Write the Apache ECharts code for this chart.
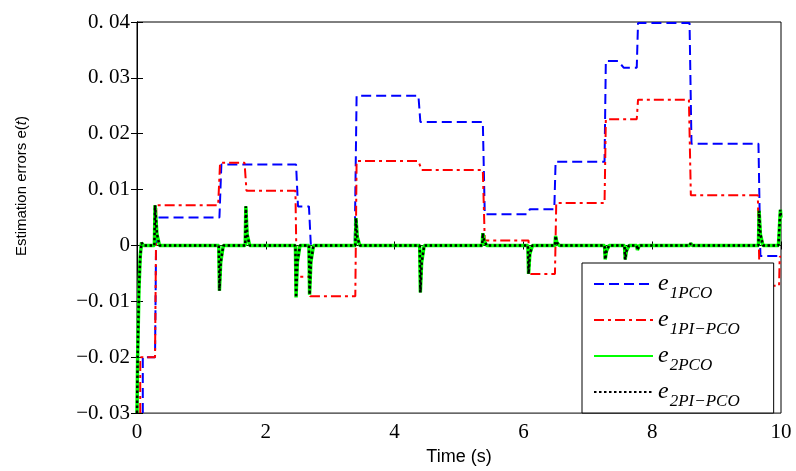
<!DOCTYPE html>
<html>
<head>
<meta charset="utf-8">
<script src="https://cdn.jsdelivr.net/npm/echarts@6/dist/echarts.min.js"></script>
<style>html,body{margin:0;padding:0;background:#fff}#c{width:796px;height:471px}</style>
</head>
<body>
<div id="c"></div>
<script>
// ---- data ----
var xTickLabels = ['0', '2', '4', '6', '8', '10'];
var yTickLabels = ['\u22120. 03', '\u22120. 02', '\u22120. 01', '0', '0. 01', '0. 02', '0. 03', '0. 04'];
var seriesNames = ['e1PCO', 'e1PI-PCO', 'e2PCO', 'e2PI-PCO'];

var e1PCO = [
  [0.09, -0.03], [0.09, -0.02], [0.28, -0.02], [0.30, 0.005], [1.28, 0.005], [1.31, 0.0145],
  [2.47, 0.0145], [2.50, 0.007], [2.67, 0.007], [2.70, -0.0001], [3.38, -0.0001], [3.41, 0.0268],
  [4.37, 0.0268], [4.40, 0.0221], [5.37, 0.0221], [5.40, 0.0056], [6.06, 0.0056], [6.10, 0.0065],
  [6.48, 0.0065], [6.50, 0.015], [7.26, 0.015], [7.28, 0.033], [7.47, 0.033], [7.56, 0.0318],
  [7.76, 0.0318], [7.78, 0.0398], [8.58, 0.0398], [8.61, 0.0182], [9.65, 0.0182], [9.68, -0.0019],
  [10.0, -0.0019]
];
var e1PIPCO = [
  [0.05, -0.03], [0.05, -0.02], [0.28, -0.02], [0.30, 0.0072], [1.26, 0.0072], [1.29, 0.0148],
  [1.67, 0.0148], [1.70, 0.0098], [2.46, 0.0098], [2.48, -0.0056], [2.67, -0.0056], [2.69, -0.0091],
  [3.39, -0.0091], [3.41, 0.0151], [4.37, 0.0151], [4.42, 0.0135], [5.37, 0.0135], [5.40, 0.0009],
  [6.08, 0.0009], [6.09, -0.0051], [6.49, -0.0051], [6.51, 0.0076], [7.26, 0.0076], [7.28, 0.0226],
  [7.76, 0.0226], [7.78, 0.0261], [8.57, 0.0261], [8.60, 0.009], [9.64, 0.009], [9.67, -0.0072],
  [9.97, -0.0072], [9.98, -0.002], [10.0, -0.002]
];
var e2PCO = [
  [0, -0.03], [0.01, -0.02], [0.03, -0.008], [0.05, -0.002], [0.07, 0.0005], [0.10, 0],
  [0.27, 0], [0.28, 0.0072], [0.31, 0.002], [0.35, 0],
  [1.27, 0], [1.28, -0.0081], [1.30, -0.003], [1.34, 0],
  [1.68, 0], [1.69, 0.007], [1.71, 0.002], [1.75, 0],
  [2.46, 0], [2.47, -0.0093], [2.49, -0.003], [2.53, 0],
  [2.67, 0], [2.68, -0.0088], [2.70, -0.003], [2.74, 0],
  [3.39, 0], [3.40, 0.0049], [3.42, 0.0015], [3.46, 0],
  [4.39, 0], [4.40, -0.0084], [4.42, -0.003], [4.46, 0],
  [5.36, 0], [5.37, 0.0022], [5.39, 0.0008], [5.43, 0],
  [6.07, 0], [6.08, -0.0051], [6.10, -0.0015], [6.14, 0],
  [6.49, 0], [6.50, 0.0017], [6.52, 0.0005], [6.56, 0],
  [7.26, 0], [7.27, -0.0025], [7.29, -0.001], [7.33, 0],
  [7.57, 0], [7.58, -0.0025], [7.60, -0.001], [7.64, 0],
  [7.76, 0], [7.77, -0.0008], [7.80, 0],
  [8.58, 0], [8.60, 0.0004], [8.62, 0],
  [9.65, 0], [9.66, 0.0062], [9.68, 0.002], [9.72, 0],
  [9.96, 0], [9.99, 0.0064], [10.0, 0.005]
];
var e2PIPCO = [
  [0, -0.03], [0.01, -0.02], [0.03, -0.008], [0.05, -0.002], [0.07, 0.0005], [0.10, 0],
  [0.27, 0], [0.28, 0.0072], [0.31, 0.002], [0.35, 0],
  [1.27, 0], [1.28, -0.0081], [1.30, -0.003], [1.34, 0],
  [1.68, 0], [1.69, 0.007], [1.71, 0.002], [1.75, 0],
  [2.46, 0], [2.47, -0.0093], [2.49, -0.003], [2.53, 0],
  [2.67, 0], [2.68, -0.0088], [2.70, -0.003], [2.74, 0],
  [3.39, 0], [3.40, 0.0049], [3.42, 0.0015], [3.46, 0],
  [4.39, 0], [4.40, -0.0084], [4.42, -0.003], [4.46, 0],
  [5.36, 0], [5.37, 0.0022], [5.39, 0.0008], [5.43, 0],
  [6.07, 0], [6.08, -0.0051], [6.10, -0.0015], [6.14, 0],
  [6.49, 0], [6.50, 0.0017], [6.52, 0.0005], [6.56, 0],
  [7.26, 0], [7.27, -0.0025], [7.29, -0.001], [7.33, 0],
  [7.57, 0], [7.58, -0.0025], [7.60, -0.001], [7.64, 0],
  [7.76, 0], [7.77, -0.0008], [7.80, 0],
  [8.58, 0], [8.60, 0.0004], [8.62, 0],
  [9.65, 0], [9.66, 0.0062], [9.68, 0.002], [9.72, 0],
  [9.96, 0], [9.99, 0.0064], [10.0, 0.005]
];
var legendSubs = {'e1PCO': '1PCO', 'e1PI-PCO': '1PI\u2212PCO', 'e2PCO': '2PCO', 'e2PI-PCO': '2PI\u2212PCO'};

// ---- chart ----
var chart = echarts.init(document.getElementById('c'), null, {renderer: 'canvas'});
var serif = '"Liberation Serif", "DejaVu Serif", serif';
var sans = '"Liberation Sans", Arial, sans-serif';
var tickFont = {fontFamily: serif, fontSize: 21, color: '#000'};

function lineSeries(name, data, color, width, type, z) {
  return {
    name: name, type: 'line', data: data, showSymbol: false, symbol: 'none',
    animation: false, silent: true, z: z,
    lineStyle: {color: color, width: width, type: type},
    itemStyle: {color: color}
  };
}

chart.setOption({
  animation: false,
  backgroundColor: '#fff',
  grid: {left: 137, right: 15, top: 22, bottom: 54, show: true, borderColor: '#000', borderWidth: 1, backgroundColor: 'transparent'},
  xAxis: [{
    type: 'value', min: 0, max: 10, interval: 2, position: 'bottom',
    axisLine: {show: true, lineStyle: {color: '#000', width: 1}},
    axisTick: {show: true, inside: true, length: 4, lineStyle: {color: '#000'}},
    splitLine: {show: false},
    axisLabel: Object.assign({margin: 9, formatter: function (v) { return xTickLabels[Math.round(v / 2)]; }}, tickFont),
    name: 'Time (s)', nameLocation: 'middle', nameGap: 33,
    nameTextStyle: {fontFamily: sans, fontSize: 18, color: '#000'}
  }, {
    type: 'value', min: 0, max: 10, interval: 2, position: 'top',
    axisLine: {show: true, lineStyle: {color: '#000', width: 1}},
    axisTick: {show: true, inside: true, length: 4, lineStyle: {color: '#000'}},
    splitLine: {show: false}, axisLabel: {show: false}
  }],
  yAxis: [{
    type: 'value', min: -0.03, max: 0.04, interval: 0.01, position: 'left',
    axisLine: {show: true, lineStyle: {color: '#000', width: 1}},
    axisTick: {show: true, inside: true, length: 6, lineStyle: {color: '#000'}},
    splitLine: {show: false},
    axisLabel: Object.assign({margin: 7, formatter: function (v) { return yTickLabels[Math.round(v * 100) + 3]; }}, tickFont)
  }, {
    type: 'value', min: -0.03, max: 0.04, interval: 0.01, position: 'right',
    axisLine: {show: true, lineStyle: {color: '#000', width: 1}},
    axisTick: {show: true, inside: true, length: 6, lineStyle: {color: '#000'}},
    splitLine: {show: false}, axisLabel: {show: false}
  }],
  legend: {
    show: true, orient: 'vertical', left: 582, top: 263,
    data: seriesNames,
    backgroundColor: '#fff', borderColor: '#000', borderWidth: 1,
    padding: [3, 34, 3, 11], itemGap: 0, itemWidth: 59, itemHeight: 14, itemTextGap: 12,
    itemStyle: {opacity: 0, borderWidth: 0},
    selectedMode: false,
    formatter: function (name) { return '{e|e}{s|' + legendSubs[name] + '}'; },
    textStyle: {
      color: '#000',
      rich: {
        e: {fontFamily: serif, fontStyle: 'italic', fontSize: 24, lineHeight: 24, color: '#000'},
        s: {fontFamily: serif, fontStyle: 'italic', fontSize: 17, lineHeight: 17, padding: [19, 0, 0, 1], color: '#000'}
      }
    }
  },
  graphic: [{
    type: 'text', x: 22, y: 186, rotation: Math.PI / 2,
    style: {
      text: '{a|Estimation errors e(}{b|t}{a|)}', align: 'center', verticalAlign: 'middle',
      rich: {
        a: {fontFamily: sans, fontSize: 15, fill: '#000'},
        b: {fontFamily: sans, fontSize: 15, fontStyle: 'italic', fill: '#000'}
      }
    }
  }],
  series: [
    lineSeries('e1PCO', e1PCO, '#0000ff', 2, [10, 5], 2),
    lineSeries('e1PI-PCO', e1PIPCO, '#ff0000', 2, [10, 4, 3, 4], 3),
    lineSeries('e2PCO', e2PCO, '#00ff00', 3.5, 'solid', 4),
    lineSeries('e2PI-PCO', e2PIPCO, '#000000', 2.5, [2.5, 2.5], 5)
  ]
});
</script>
</body>
</html>
